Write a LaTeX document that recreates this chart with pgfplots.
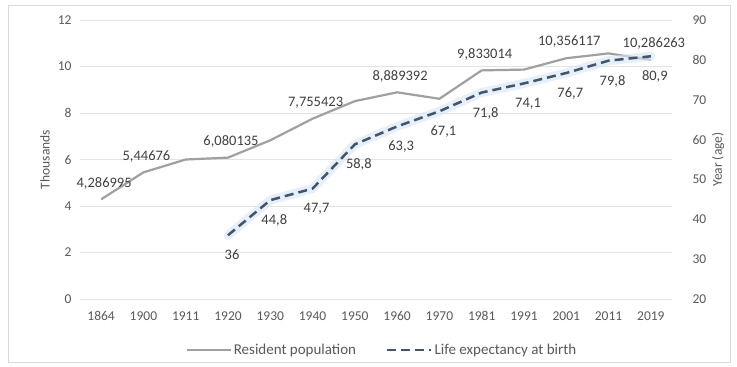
\documentclass[border=0pt]{standalone}
\usepackage{fontspec}
\setmainfont{Carlito}
\usepackage{pgfplots}
\pgfplotsset{compat=1.18}
\usepackage{pgfplotstable}

\definecolor{tickgray}{HTML}{595959}
\definecolor{labelgray}{HTML}{404040}
\definecolor{gridgray}{HTML}{E3E3E3}
\definecolor{framegray}{HTML}{D9D9D9}
\definecolor{popgray}{HTML}{A0A0A0}
\definecolor{lifeblue}{HTML}{44546A}
\definecolor{glowblue}{HTML}{D6E6F5}

% Resident population (thousands), census years
\pgfplotstableread{
idx pop lab
0 4.286995 4,286995
1 5.44676 5,44676
2 5.999146 {}
3 6.080135 6,080135
4 6.825883 {}
5 7.755423 7,755423
6 8.510240 {}
7 8.889392 8,889392
8 8.611125 {}
9 9.833014 9,833014
10 9.867147 {}
11 10.356117 10,356117
12 10.562178 {}
13 10.286263 10,286263
}\popdata

% Life expectancy at birth (years)
\pgfplotstableread{
idx life lab
3 36 36
4 44.8 44,8
5 47.7 47,7
6 58.8 58,8
7 63.3 63,3
8 67.1 67,1
9 71.8 71,8
10 74.1 74,1
11 76.7 76,7
12 79.8 79,8
13 80.9 80,9
}\lifedata

\newcommand{\ticksize}{\fontsize{13.5bp}{16bp}\selectfont}
\newcommand{\labsize}{\fontsize{14.5bp}{17bp}\selectfont}
\newcommand{\legsize}{\fontsize{15bp}{18bp}\selectfont}

\pgfplotsset{
  common/.style={
    at={(80bp,68bp)}, anchor=south west,
    width=592bp, height=279bp, scale only axis,
    xmin=-0.5, xmax=13.5,
    major tick length=0pt,
    tick label style={font=\ticksize, text=tickgray},
    /pgf/number format/assume math mode=true,
    label style={font=\ticksize, text=tickgray},
    clip=false,
  },
  popstyle/.style={popgray, line width=2.2bp, line join=round},
  lifestyle/.style={lifeblue, line width=2.5bp, dash pattern=on 9bp off 5bp, line join=round},
}

\begin{document}
\begin{tikzpicture}
\path[use as bounding box, fill=white] (0,0) rectangle (737bp,367bp);
\draw[framegray, line width=0.8bp] (8bp,5bp) rectangle (730bp,362bp);

% left axis: resident population
\begin{axis}[common,
  ymin=0, ymax=12, ytick={0,2,...,12},
  xtick={0,...,13},
  xticklabels={1864,1900,1911,1920,1930,1940,1950,1960,1970,1981,1991,2001,2011,2019},
  axis line style={draw=none},
  ymajorgrids, grid style={gridgray, line width=0.8bp},
  xticklabel style={yshift=-9bp},
  yticklabel style={xshift=-5bp},
  ylabel={Thousands},
  ylabel style={at={(axis description cs:-0.059,0.5)}, anchor=center},
  legend style={at={(axis description cs:0.51,-0.183)}, anchor=center,
    draw=none, fill=none, font=\legsize, text=tickgray,
    legend columns=2, legend cell align=left,
    /tikz/every even column/.append style={column sep=28bp}},
  legend image code/.code={\draw[#1] (0bp,0bp) -- (44bp,0bp);},
]
\addplot[popstyle, forget plot,
  nodes near coords, point meta=explicit symbolic,
  every node near coord/.style={font=\labsize, text=labelgray,
    anchor=south, yshift=6bp, xshift=3bp}]
  table[x=idx, y=pop, meta=lab] {\popdata};
\addlegendimage{popstyle}
\addlegendentry{Resident population}
\addlegendimage{lifestyle}
\addlegendentry{Life expectancy at birth}
\end{axis}

% right axis: life expectancy
\begin{axis}[common,
  ymin=20, ymax=90, ytick={20,30,...,90},
  axis x line=none, axis y line*=right,
  y axis line style={draw=none},
  yticklabel style={xshift=17bp},
  ylabel={Year (age)},
  ylabel style={at={(axis description cs:1.078,0.5)}, anchor=center, rotate=0},
]
\addplot[glowblue, line width=9bp, opacity=0.6, line join=round, line cap=round, forget plot]
  table[x=idx, y=life] {\lifedata};
\addplot[lifestyle, forget plot,
  nodes near coords, point meta=explicit symbolic,
  every node near coord/.style={font=\labsize, text=labelgray,
    anchor=north, yshift=-10bp, xshift=4bp}]
  table[x=idx, y=life, meta=lab] {\lifedata};
\end{axis}
\end{tikzpicture}
\end{document}
